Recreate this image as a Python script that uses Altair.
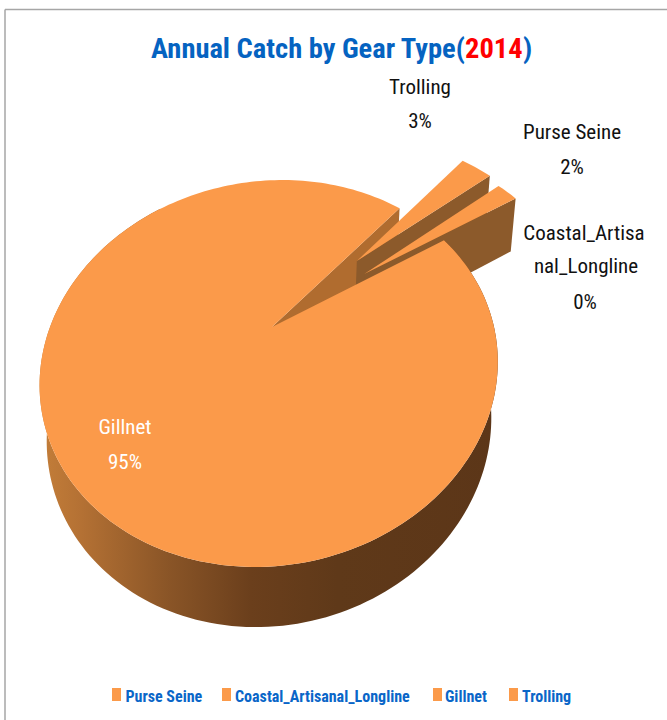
import math
import altair as alt
import pandas as pd

# Slice values, clockwise from the start angle
gear_types = ["Purse Seine", "Coastal_Artisanal_Longline", "Gillnet", "Trolling"]
percents = [2, 0, 95, 3]
explode = [0.53, 0.0, 0.0, 0.56]
slice_order = ["Trolling", "Purse Seine", "Coastal_Artisanal_Longline", "Gillnet"]
start_angle = 39.5

# Label lines: text, centre x, centre y, colour
label_lines = [
    ("Trolling", 420, 88, "#111111"),
    ("3%", 420, 122, "#111111"),
    ("Purse Seine", 572, 133, "#111111"),
    ("2%", 572, 168, "#111111"),
    ("Coastal_Artisa", 584, 234, "#111111"),
    ("nal_Longline", 586, 267, "#111111"),
    ("0%", 585, 303, "#111111"),
    ("Gillnet", 125, 428, "#ffffff"),
    ("95%", 125, 463, "#ffffff"),
]
title_parts = [("Annual Catch by Gear Type(", 151, "#0563c1"), ("2014", 465, "#ff0000"), (")", 523, "#0563c1")]
legend_swatch_x = [112, 222, 433, 509]
legend_text_x = [125.5, 235, 445, 522]

FONT = "Roboto Condensed, Lato"
TOP = "#fb9a4a"
CUT_WALL = "#b06c2f"
WEDGE_WALL = "#8c5a2b"
SIZE = 222.0
HOME = (272.0, 327.0)
TILT = -0.2403
DEPTH_W = 0.0483


def project(u, v, level=0.0):
    """Perspective view of a point on the pie's top (level 0) or bottom (level 1) face."""
    w = 1 + TILT * v + DEPTH_W * level
    x = HOME[0] + (SIZE * (1 + 0.02 * level) * u - 13 * v) / w
    y = (HOME[1] + 103.7 * v + 76 * level) / w
    return x, y


def on_rim(angle, shift=(0.0, 0.0), radius=1.0):
    a = math.radians(angle)
    return shift[0] + radius * math.sin(a), shift[1] - radius * math.cos(a)


def polygon(points, fill):
    closed = points + points[:1]
    frame = pd.DataFrame({
        "i": range(len(closed)),
        "x": [p[0] for p in closed],
        "y": [p[1] for p in closed],
    })
    return alt.Chart(frame).mark_line(fill=fill, strokeWidth=0).encode(
        x=alt.X("x:Q", scale=alt.Scale(domain=[0, 667], nice=False), axis=None),
        y=alt.Y("y:Q", scale=alt.Scale(domain=[720, 0], nice=False), axis=None),
        order=alt.Order("i:Q"),
    )


def arc_angles(a0, a1, step=1.5):
    n = max(2, int(abs(a1 - a0) / step) + 1)
    return [a0 + (a1 - a0) * k / (n - 1) for k in range(n)]


# Angular span of every slice
spans = {}
cursor = start_angle
for name in slice_order:
    sweep = percents[gear_types.index(name)] * 3.6
    spans[name] = (cursor, cursor + sweep)
    cursor += sweep

side_gradient = alt.Gradient(
    gradient="linear", x1=0, x2=1, y1=0, y2=0,
    stops=[
        alt.GradientStop(offset=0.0, color="#c47e39"),
        alt.GradientStop(offset=0.09, color="#b47134"),
        alt.GradientStop(offset=0.28, color="#8a5527"),
        alt.GradientStop(offset=0.46, color="#6b3f1c"),
        alt.GradientStop(offset=0.65, color="#5f3919"),
        alt.GradientStop(offset=1.0, color="#5c3618"),
    ],
)

layers = []

# Cut face of the big slice that looks into the gap
g0, g1 = spans["Gillnet"]
centre = (0.0, 0.0)
edge = on_rim(g1)
layers.append(polygon(
    [project(*centre), project(*edge), project(*edge, 1), project(*centre, 1)], CUT_WALL
))

# Pulled-out wedges, far one first
for name in ["Trolling", "Purse Seine"]:
    a0, a1 = spans[name]
    pull = explode[gear_types.index(name)]
    shift = on_rim((a0 + a1) / 2, radius=pull)
    end = on_rim(a1, shift)
    layers.append(polygon(
        [project(*shift), project(*end), project(*end, 1), project(*shift, 1)], WEDGE_WALL
    ))
    rim = [project(*on_rim(a, shift)) for a in arc_angles(a0, a1)]
    layers.append(polygon([project(*shift)] + rim, TOP))

# Outer wall of the big slice, then its top face
wall_angles = arc_angles(g0, 320)
lower = [project(*on_rim(a), 1) for a in wall_angles]
upper = [project(*on_rim(a)) for a in wall_angles]
layers.append(polygon(lower + upper[::-1], side_gradient))
layers.append(polygon([project(*centre)] + [project(*on_rim(a)) for a in arc_angles(g0, g1)], TOP))

shared_x = alt.X("x:Q", scale=alt.Scale(domain=[0, 667], nice=False), axis=None)
shared_y = alt.Y("y:Q", scale=alt.Scale(domain=[720, 0], nice=False), axis=None)

# Chart frame along the left and top edges
frame_left = pd.DataFrame({"x": [5, 5], "y": [9.5, 720]})
frame_top = pd.DataFrame({"x": [5, 667], "y": [9.5, 9.5]})
for part in (frame_left, frame_top):
    layers.append(alt.Chart(part).mark_line(color="#a6a6a6", strokeWidth=1.5).encode(x=shared_x, y=shared_y))

# Slice labels
labels = pd.DataFrame(label_lines, columns=["text", "x", "y", "colour"])
layers.append(
    alt.Chart(labels).mark_text(font=FONT, fontSize=21, align="center", baseline="middle")
    .encode(x=shared_x, y=shared_y, text="text:N", color=alt.Color("colour:N", scale=None))
)

# Title, in coloured runs
title = pd.DataFrame(title_parts, columns=["text", "x", "colour"])
title["y"] = 58
layers.append(
    alt.Chart(title).mark_text(font=FONT, fontWeight="bold", fontSize=28.5, align="left", baseline="alphabetic")
    .encode(x=shared_x, y=shared_y, text="text:N", color=alt.Color("colour:N", scale=None))
)

# Legend row
legend = pd.DataFrame({
    "name": gear_types,
    "x": legend_swatch_x,
    "x2": [v + 9 for v in legend_swatch_x],
    "tx": legend_text_x,
    "y": [688] * 4,
    "y2": [701] * 4,
    "ty": [702] * 4,
})
layers.append(
    alt.Chart(legend).mark_rect(color=TOP).encode(x=shared_x, x2="x2:Q", y=shared_y, y2="y2:Q")
)
layers.append(
    alt.Chart(legend).mark_text(font=FONT, fontWeight="bold", fontSize=16, align="left", baseline="alphabetic", color="#0a66c8")
    .encode(x=alt.X("tx:Q", scale=alt.Scale(domain=[0, 667], nice=False), axis=None),
            y=alt.Y("ty:Q", scale=alt.Scale(domain=[720, 0], nice=False), axis=None),
            text="name:N")
)

chart = (
    alt.layer(*layers)
    .properties(width=667, height=720, padding=0, autosize=alt.AutoSizeParams(type="none"), background="#ffffff")
    .configure_view(strokeWidth=0)
)
chart.save("out.html", embed_options={"renderer": "svg", "actions": False})
